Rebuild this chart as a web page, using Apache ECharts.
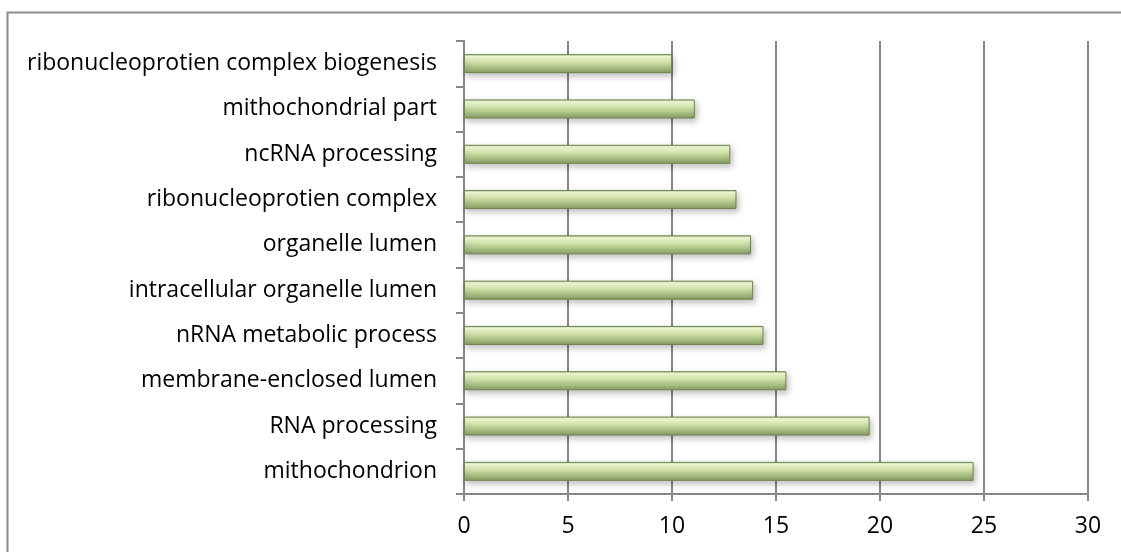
<!DOCTYPE html>
<html>
<head>
<meta charset="utf-8">
<style>
  html, body { margin: 0; padding: 0; background: #ffffff; }
  #chart { width: 1121px; height: 552px; }
</style>
<script src="https://cdn.jsdelivr.net/npm/echarts@6/dist/echarts.min.js"></script>
</head>
<body>
<div id="chart"></div>
<script>
// GO terms, listed bottom to top as they appear on the category axis
const categories = [
  'mithochondrion',
  'RNA processing',
  'membrane-enclosed lumen',
  'nRNA metabolic process',
  'intracellular organelle lumen',
  'organelle lumen',
  'ribonucleoprotien complex',
  'ncRNA processing',
  'mithochondrial part',
  'ribonucleoprotien complex biogenesis'
];
const values = [24.5, 19.5, 15.5, 14.4, 13.9, 13.8, 13.1, 12.8, 11.1, 10.0];
const xTicks = [0, 5, 10, 15, 20, 25, 30];

const axisGray = '#868686';
const fontFamily = '"Open Sans", Lato, sans-serif';

const chart = echarts.init(document.getElementById('chart'));

const barFill = new echarts.graphic.LinearGradient(0, 0, 0, 1, [
  { offset: 0.00, color: '#b4c88e' },
  { offset: 0.12, color: '#f2fbd8' },
  { offset: 0.35, color: '#dcecb4' },
  { offset: 0.70, color: '#a9bf83' },
  { offset: 0.90, color: '#93a86f' },
  { offset: 1.00, color: '#7d9259' }
]);

chart.setOption({
  animation: false,
  backgroundColor: '#ffffff',
  graphic: [{
    type: 'rect',
    shape: { x: 7.5, y: 12.5, width: 1140, height: 580 },
    style: { fill: 'none', stroke: '#8c8c8c', lineWidth: 2 },
    silent: true,
    z: -1
  }],
  grid: { left: 464, right: 33, top: 41, bottom: 58, containLabel: false },
  xAxis: {
    type: 'value',
    min: xTicks[0],
    max: xTicks[xTicks.length - 1],
    interval: xTicks[1] - xTicks[0],
    axisLine: { show: true, lineStyle: { color: axisGray, width: 2 } },
    axisTick: { show: true, length: 7, lineStyle: { color: axisGray, width: 2 } },
    splitLine: { show: true, lineStyle: { color: axisGray, width: 2 } },
    axisLabel: { color: '#000000', fontSize: 23, fontFamily: fontFamily, margin: 21 }
  },
  yAxis: {
    type: 'category',
    data: categories,
    axisLine: { show: true, lineStyle: { color: axisGray, width: 2 } },
    axisTick: { show: true, length: 8, lineStyle: { color: axisGray, width: 2 } },
    axisLabel: { color: '#000000', fontSize: 23, fontFamily: fontFamily, margin: 27 }
  },
  series: [{
    type: 'bar',
    data: values,
    barWidth: 19,
    itemStyle: {
      color: barFill,
      borderColor: '#6f8450',
      borderWidth: 1,
      shadowColor: 'rgba(0,0,0,0.25)',
      shadowBlur: 6,
      shadowOffsetX: 2,
      shadowOffsetY: 3
    }
  }]
});
</script>
</body>
</html>
